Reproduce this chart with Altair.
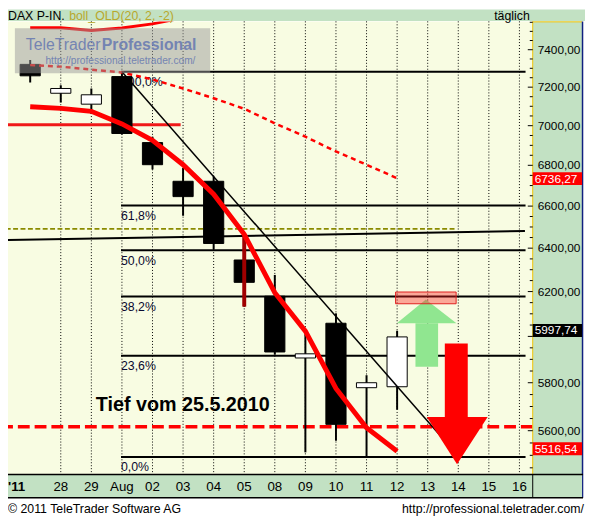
import altair as alt
import pandas as pd

FONT = "Liberation Sans"

# ---------------- data ----------------
x_labels = ["'11", "28", "29", "Aug", "02", "03", "04", "05", "08", "09",
            "10", "11", "12", "13", "14", "15", "16"]
candle_idx = list(range(13))
opens  = [7321, 7168, 7111, 7256, 6914, 6721, 6721, 6345, 6179, 5906, 6058, 5779, 5783]
highs  = [7345, 7210, 7193, 7282, 6944, 6787, 6745, 6460, 6276, 6010, 6102, 5832, 6025]
lows   = [7224, 7120, 7060, 6955, 6779, 6554, 6394, 6132, 5920, 5512, 5559, 5496, 5687]
closes = [7260, 7193, 7160, 6960, 6803, 6646, 6422, 6242, 5932, 5924, 5626, 5800, 5997.74]

upper_band  = [7520, 7520, 7505, 7519, 7541, 7575]
middle_band = [7317, 7309, 7293, 7278, 7241, 7193, 7142, 7087, 7012, 6944, 6869, 6803, 6736.27]
lower_band  = [7098, 7089, 7074, 7009, 6925, 6803, 6658, 6465, 6195, 6023, 5776, 5612, 5516.54]

fib_levels = [7282, 6603, 6390, 6178, 5916, 5493]
fib_labels = ["100,0%", "61,8%", "50,0%", "38,2%", "23,6%", "0,0%"]
fib_span = [2.97, 16.2]

trend_x, trend_y = [3, 14], [7282, 5496]
support_x, support_y = [-0.8, 16.18], [6438, 6481]
olive_level, olive_span = 6491, [-0.8, 13.91]
red_level, red_span = 7005, [-0.8, 4.92]
tief_level = 5616
tief_text = "Tief vom 25.5.2010"
tief_pos = (2.145, 5707)
spike = (7, 6460, 6132)

zone_x, zone_y = [11.95, 13.93], [6145, 6198]
green_shaft_x, green_shaft_y = [12.6, 13.34], [5868, 6058]
green_head_x, green_head_y = [11.99, 12.94, 13.94], [6058, 6164, 6058]
red_shaft_x, red_shaft_y = [13.56, 14.31], [5656, 5969]
red_head_x, red_head_y = [12.97, 13.96, 14.96], [5656, 5464, 5656]

axis_values = [5600, 5800, 6200, 6400, 6600, 6800, 7000, 7200, 7400]
major_ticks = [5600, 5800, 6000, 6200, 6400, 6600, 6800, 7000, 7200, 7400]
minor_ticks = [5450, 5500, 5550, 5650, 5700, 5750, 5850, 5900, 5950, 6050, 6100, 6150,
               6250, 6300, 6350, 6450, 6500, 6550, 6650, 6700, 6750, 6850, 6900, 6950,
               7050, 7100, 7150, 7250, 7300, 7350, 7450, 7500, 7550]
last_values = [6736.27, 5997.74, 5516.54]

# ---------------- geometry ----------------
W, H = 532, 459
xs = alt.Scale(domain=[-0.7258, 16.435], nice=False, zero=False)
ys = alt.Scale(type="log", domain=[5425, 7555], nice=False, zero=False)

GREEN = "#C2E1C3"
BG = "#F8FCE2"


def X(f):
    return alt.X(f, type="quantitative", scale=xs, axis=None)


def Y(f):
    return alt.Y(f, type="quantitative", scale=ys, axis=None)


one = pd.DataFrame({"k": [0]})


def deco_rect(x1, x2, y1, y2, **kw):
    return alt.Chart(one).mark_rect(**kw).encode(
        x=alt.value(x1), x2=alt.value(x2), y=alt.value(y1), y2=alt.value(y2))


def deco_rule(x1, x2, y1, y2, **kw):
    return alt.Chart(one).mark_rule(**kw).encode(
        x=alt.value(x1), x2=alt.value(x2), y=alt.value(y1), y2=alt.value(y2))


def deco_text(x, y, text, **kw):
    base = dict(font=FONT, baseline="alphabetic")
    base.update(kw)
    return alt.Chart(one).mark_text(text=text, **base).encode(x=alt.value(x), y=alt.value(y))


def fmt(v):
    return f"{v:.2f}".replace(".", ",")


layers = []

# dotted vertical grid
grid_df = pd.DataFrame({"i": list(range(1, len(x_labels)))})
layers.append(alt.Chart(grid_df).mark_rule(color="#000000", strokeDash=[1, 2], strokeWidth=1)
              .encode(x=X("i")))

# fibonacci lines + labels
fib_df = pd.DataFrame({"v": fib_levels, "lab": fib_labels,
                       "x1": [fib_span[0]] * len(fib_levels), "x2": [fib_span[1]] * len(fib_levels)})
layers.append(alt.Chart(fib_df).mark_rule(color="#000000", strokeWidth=2, clip=True)
              .encode(x=X("x1"), x2=alt.X2("x2"), y=Y("v")))
layers.append(alt.Chart(fib_df).mark_text(align="left", baseline="middle", dy=10.5, font=FONT,
                                          fontSize=12.5, color="#0A0A30")
              .encode(x=X("x1"), y=Y("v"), text="lab:N"))

# horizontal drawings
layers.append(alt.Chart(pd.DataFrame({"v": [red_level], "x1": [red_span[0]], "x2": [red_span[1]]}))
              .mark_rule(color="#F01818", strokeWidth=3, clip=True)
              .encode(x=X("x1"), x2=alt.X2("x2"), y=Y("v")))
layers.append(alt.Chart(pd.DataFrame({"v": [olive_level], "x1": [olive_span[0]], "x2": [olive_span[1]]}))
              .mark_rule(color="#8A8A00", strokeWidth=2, strokeDash=[5, 2.5], clip=True)
              .encode(x=X("x1"), x2=alt.X2("x2"), y=Y("v")))
layers.append(alt.Chart(pd.DataFrame({"x": support_x, "v": support_y}))
              .mark_line(color="#000000", strokeWidth=2, clip=True)
              .encode(x=X("x"), y=Y("v")))
layers.append(alt.Chart(pd.DataFrame({"v": [tief_level]}))
              .mark_rule(color="#FF0000", strokeWidth=3.5, strokeDash=[12, 5], clip=True)
              .encode(y=Y("v")))

# candles
cdf = pd.DataFrame({"i": candle_idx, "o": opens, "h": highs, "l": lows, "c": closes})
cdf["lo"] = cdf[["o", "c"]].min(axis=1)
cdf["hi"] = cdf[["o", "c"]].max(axis=1)
cdf["x1"] = cdf["i"] - 0.33
cdf["x2"] = cdf["i"] + 0.33
cdf["up"] = cdf["c"] > cdf["o"]

layers.append(alt.Chart(cdf).mark_rule(color="#000000", strokeWidth=2, clip=True)
              .encode(x=X("i"), y=Y("l"), y2=alt.Y2("h")))
layers.append(alt.Chart(cdf).mark_rect(stroke="#000000", strokeWidth=1, clip=True)
              .encode(x=X("x1"), x2=alt.X2("x2"), y=Y("lo"), y2=alt.Y2("hi"),
                      fill=alt.condition("datum.up", alt.value("#FFFFFF"), alt.value("#000000"))))
layers.append(alt.Chart(pd.DataFrame({"i": [spike[0]], "t": [spike[1]], "b": [spike[2]]}))
              .mark_rule(color="#A00000", strokeWidth=4, clip=True)
              .encode(x=X("i"), y=Y("t"), y2=alt.Y2("b")))

# bollinger bands
layers.append(alt.Chart(pd.DataFrame({"i": list(range(len(upper_band))), "v": upper_band}))
              .mark_line(color="#FF0000", strokeWidth=3, clip=True).encode(x=X("i"), y=Y("v")))
layers.append(alt.Chart(pd.DataFrame({"i": list(range(len(middle_band))), "v": middle_band}))
              .mark_line(color="#FF0000", strokeWidth=2.5, strokeDash=[5, 4], clip=True)
              .encode(x=X("i"), y=Y("v")))
layers.append(alt.Chart(pd.DataFrame({"i": list(range(len(lower_band))), "v": lower_band}))
              .mark_line(color="#FF0000", strokeWidth=5, clip=True).encode(x=X("i"), y=Y("v")))

# down trend line
layers.append(alt.Chart(pd.DataFrame({"x": trend_x, "v": trend_y}))
              .mark_line(color="#000000", strokeWidth=1.5, clip=True).encode(x=X("x"), y=Y("v")))

# arrows and target zone
layers.append(alt.Chart(pd.DataFrame({"x1": [green_shaft_x[0]], "x2": [green_shaft_x[1]],
                                      "y1": [green_shaft_y[0]], "y2": [green_shaft_y[1]]}))
              .mark_rect(color="#90E690").encode(x=X("x1"), x2=alt.X2("x2"), y=Y("y1"), y2=alt.Y2("y2")))
layers.append(alt.Chart(pd.DataFrame({"x": green_head_x, "y": green_head_y,
                                      "y2": [green_head_y[0]] * 3}))
              .mark_area(color="#90E690", orient="vertical").encode(x=X("x"), y=Y("y"), y2=alt.Y2("y2")))
layers.append(alt.Chart(pd.DataFrame({"x1": [zone_x[0]], "x2": [zone_x[1]],
                                      "y1": [zone_y[0]], "y2": [zone_y[1]]}))
              .mark_rect(fill="#FF2020", fillOpacity=0.38, stroke="#E02020", strokeWidth=1)
              .encode(x=X("x1"), x2=alt.X2("x2"), y=Y("y1"), y2=alt.Y2("y2")))
layers.append(alt.Chart(pd.DataFrame({"x1": [red_shaft_x[0]], "x2": [red_shaft_x[1]],
                                      "y1": [red_shaft_y[0]], "y2": [red_shaft_y[1]]}))
              .mark_rect(color="#FF0000").encode(x=X("x1"), x2=alt.X2("x2"), y=Y("y1"), y2=alt.Y2("y2")))
layers.append(alt.Chart(pd.DataFrame({"x": red_head_x, "y": red_head_y,
                                      "y2": [red_head_y[0]] * 3}))
              .mark_area(color="#FF0000", orient="vertical").encode(x=X("x"), y=Y("y"), y2=alt.Y2("y2")))

# annotation text
layers.append(alt.Chart(pd.DataFrame({"x": [tief_pos[0]], "v": [tief_pos[1]], "t": [tief_text]}))
              .mark_text(align="left", baseline="middle", font=FONT, fontSize=20, fontWeight="bold",
                         color="#000000").encode(x=X("x"), y=Y("v"), text="t:N"))

# watermark
layers.append(deco_rect(7, 205, 7, 52.7, fill="#9A9A9A", opacity=0.5))
layers.append(deco_text(18, 29, "TeleTrader", fontSize=16, color="#7484B2", align="left"))
layers.append(deco_text(191, 29, "Professional", fontSize=16, fontWeight="bold",
                        color="#7484B2", align="right"))
layers.append(deco_text(190, 43, "http://professional.teletrader.com/", fontSize=10.3,
                        color="#7484B2", align="right"))

# frame decorations
layers.append(deco_rect(-2, 585, -12, -0.5, fill=GREEN))                  # header
layers.append(deco_text(0, -1.5, "DAX P-IN.", fontSize=12.5, color="#000000", align="left"))
layers.append(deco_text(62, -1.5, "boll_OLD(20, 2, -2)", fontSize=12.5, color="#B8A82C", align="left"))
layers.append(deco_text(529, -1.5, "täglich", fontSize=12.5, color="#000000", align="right"))
layers.append(deco_rect(532, 582, 0, H, fill=GREEN))                      # right axis panel
layers.append(deco_rule(532, 532, 0, H, color="#F2C200", strokeWidth=1))
layers.append(deco_rule(532, 582, 0.5, 0.5, color="#F2C200", strokeWidth=1))
layers.append(deco_rule(582.5, 582.5, 0, H + 24, color="#102080", strokeWidth=1.5))
layers.append(deco_rect(-2, 582, H + 0.5, H + 24, fill=GREEN))            # x-axis bar
layers.append(deco_rule(-2, 583, H + 0.5, H + 0.5, color="#000000", strokeWidth=1.5))
layers.append(deco_rule(-2, 583, H + 24, H + 24, color="#000000", strokeWidth=1.5))
layers.append(deco_rule(532, 532, H, H + 24, color="#000000", strokeWidth=1))
layers.append(deco_text(0, H + 39, "© 2011 TeleTrader Software AG", fontSize=12.5,
                        color="#000000", align="left"))
layers.append(deco_text(584, H + 39, "http://professional.teletrader.com/", fontSize=12.5,
                        color="#000000", align="right"))

# right axis: ticks and labels
layers.append(alt.Chart(pd.DataFrame({"v": minor_ticks})).mark_rule(color="#000000", strokeWidth=1)
              .encode(y=Y("v"), x=alt.value(W - 3), x2=alt.value(W)))
layers.append(alt.Chart(pd.DataFrame({"v": major_ticks})).mark_rule(color="#000000", strokeWidth=1)
              .encode(y=Y("v"), x=alt.value(W - 5), x2=alt.value(W)))
ax_df = pd.DataFrame({"v": axis_values, "t": [fmt(v) for v in axis_values]})
layers.append(alt.Chart(ax_df).mark_text(align="left", baseline="middle", font=FONT, fontSize=12,
                                         color="#000000")
              .encode(y=Y("v"), x=alt.value(W + 5), text="t:N"))

# last value boxes
box_cols = ["#FF0000", "#000000", "#FF0000"]
box_off = [0.5, -6.5, -2.5]
for v, col, off in zip(last_values, box_cols, box_off):
    d = pd.DataFrame({"v": [v], "t": [fmt(v)]})
    layers.append(alt.Chart(d).mark_point(shape="M-1,-0.26L1,-0.26L1,0.26L-1,0.26Z", size=2500,
                                          filled=True, opacity=1, color=col, yOffset=off)
                  .encode(y=Y("v"), x=alt.value(557)))
    layers.append(alt.Chart(d).mark_text(align="left", baseline="middle", font=FONT, fontSize=12,
                                         color="#FFFFFF", dy=off)
                  .encode(y=Y("v"), x=alt.value(534), text="t:N"))

# x labels
xl_df = pd.DataFrame({"i": list(range(1, len(x_labels))), "t": x_labels[1:]})
layers.append(alt.Chart(xl_df).mark_text(baseline="middle", font=FONT, fontSize=13.5, color="#000000")
              .encode(x=X("i"), y=alt.value(H + 13), text="t:N"))
layers.append(deco_text(0, H + 13, x_labels[0], baseline="middle", fontSize=13.5, fontWeight="bold",
                        color="#000000", align="left"))

chart = alt.layer(*layers).properties(
    width=W, height=H,
    padding={"left": 0, "top": 10, "right": 53, "bottom": 45},
    autosize=alt.AutoSizeParams(type="none"),
    background="#FFFFFF",
).configure_view(fill=BG, stroke=None)

chart.save("out.html", embed_options={"renderer": "svg", "actions": False})
